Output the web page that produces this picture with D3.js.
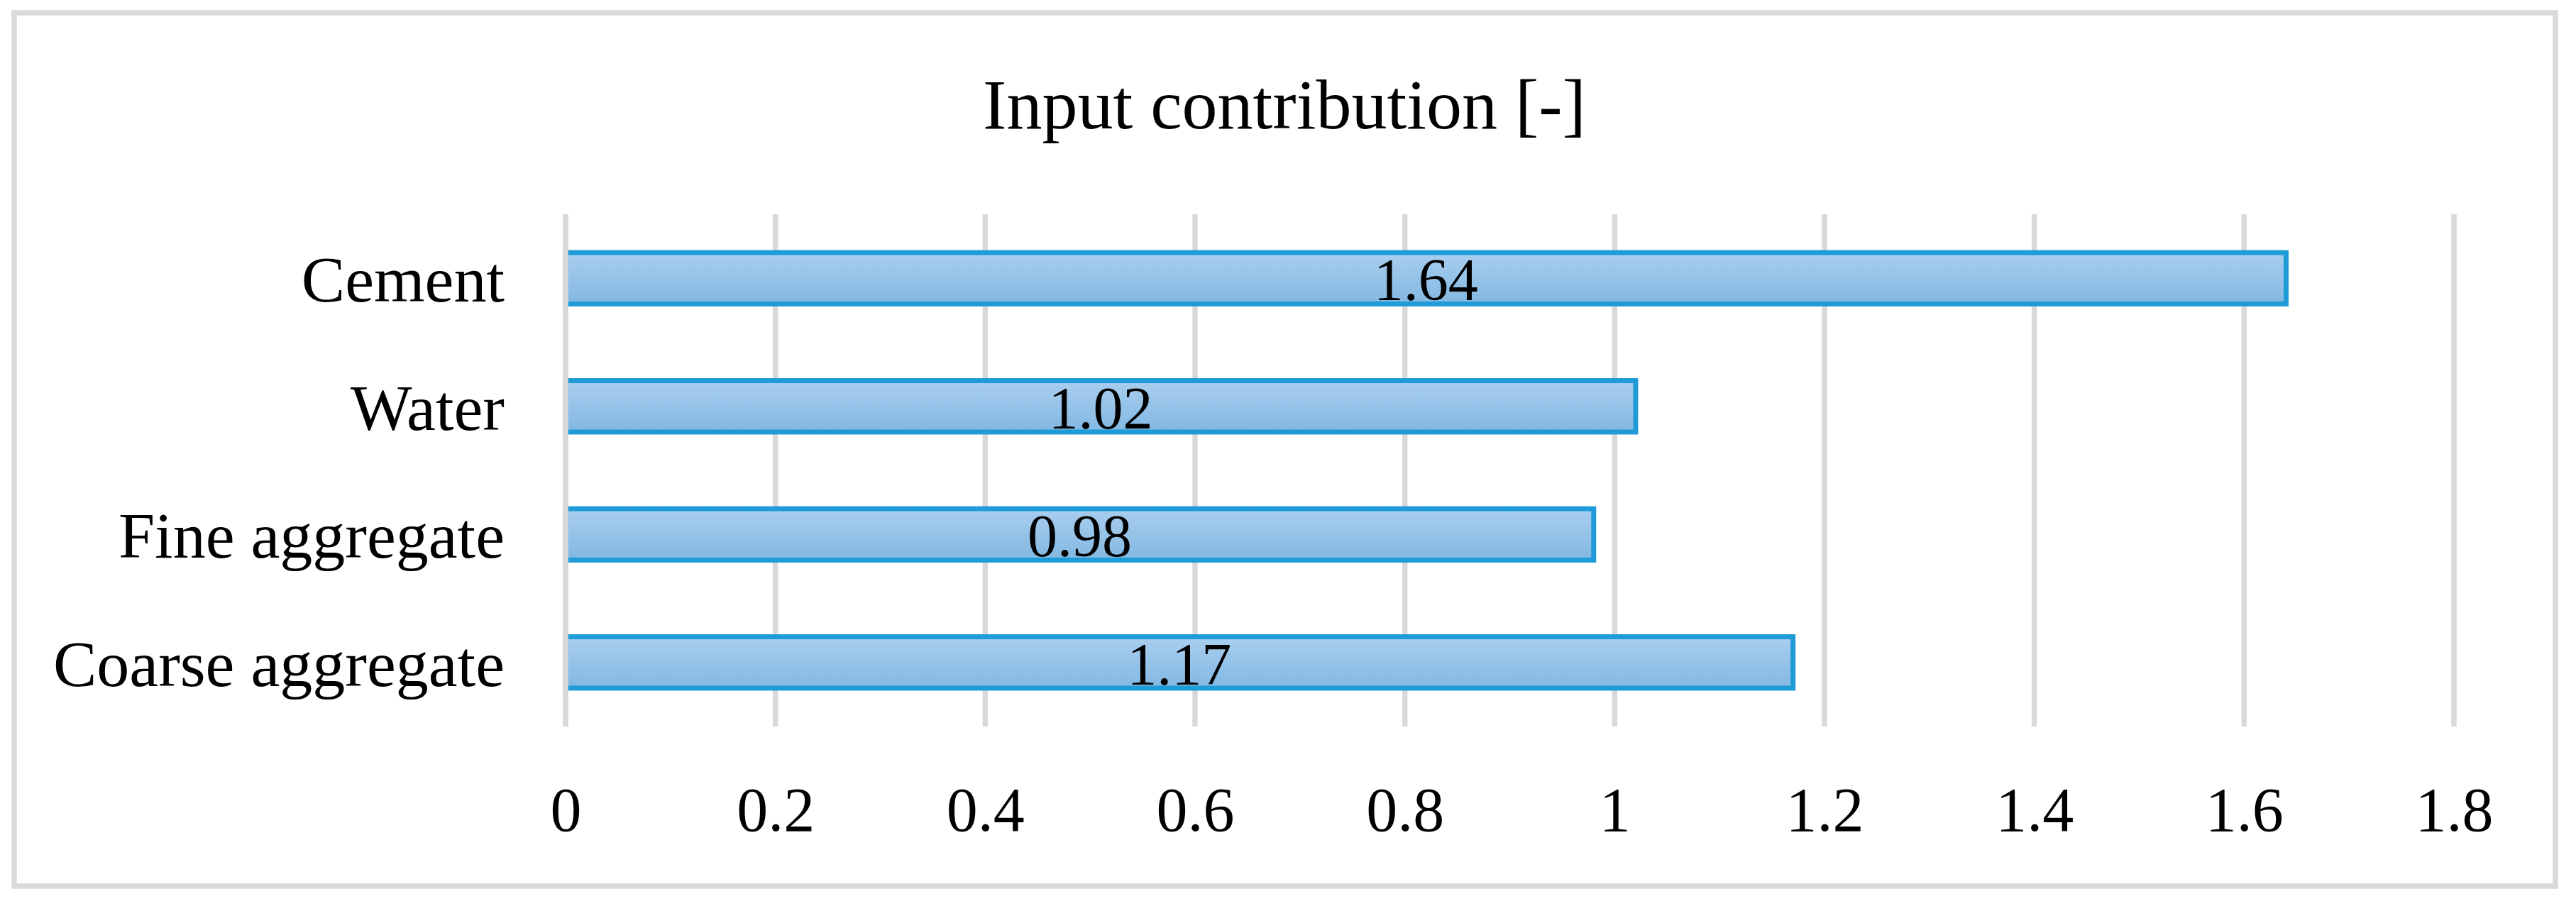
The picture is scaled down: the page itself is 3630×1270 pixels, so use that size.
<!DOCTYPE html>
<html>
<head>
<meta charset="utf-8">
<script src="https://cdn.jsdelivr.net/npm/d3@7"></script>
<style>
  html, body { margin: 0; padding: 0; background: #ffffff; }
  svg { display: block; }
</style>
</head>
<body>
<svg id="chart" width="3630" height="1270"></svg>
<script>
// ---- data ----
const categories = ["Cement", "Water", "Fine aggregate", "Coarse aggregate"];
const values = [1.64, 1.02, 0.98, 1.17];
const tickValues = [0, 0.2, 0.4, 0.6, 0.8, 1.0, 1.2, 1.4, 1.6, 1.8];
const tickLabels = ["0", "0.2", "0.4", "0.6", "0.8", "1", "1.2", "1.4", "1.6", "1.8"];
const valueLabels = ["1.64", "1.02", "0.98", "1.17"];
const chartTitle = "Input contribution [-]";

// ---- layout ----
const W = 3630, H = 1270;
const plot = { left: 797, right: 3458, top: 302, bottom: 1024 };
const svg = d3.select("#chart");
const FONT = "'Liberation Serif', 'Times New Roman', serif";

const defs = svg.append("defs");
const grad = defs.append("linearGradient")
  .attr("id", "barGrad").attr("x1", 0).attr("y1", 0).attr("x2", 0).attr("y2", 1);
grad.append("stop").attr("offset", "0%").attr("stop-color", "#a9ceef");
grad.append("stop").attr("offset", "100%").attr("stop-color", "#82b8e2");

// background + frame
svg.append("rect").attr("x", 0).attr("y", 0).attr("width", W).attr("height", H).attr("fill", "#ffffff");
svg.append("rect")
  .attr("x", 20).attr("y", 18).attr("width", 3581).attr("height", 1231)
  .attr("fill", "none").attr("stroke", "#d9d9d9").attr("stroke-width", 7.5);

const x = d3.scaleLinear().domain([0, 1.8]).range([plot.left, plot.right]);
const y = d3.scaleBand().domain(categories).range([plot.top, plot.bottom])
  .paddingInner(0.56).paddingOuter(0.28);

// gridlines
svg.append("g").selectAll("line").data(tickValues).join("line")
  .attr("x1", d => x(d)).attr("x2", d => x(d))
  .attr("y1", plot.top).attr("y2", plot.bottom)
  .attr("stroke", "#d9d9d9").attr("stroke-width", 7.5);

// bars
const sw = 7;
const data = categories.map((c, i) => ({ c, v: values[i], label: valueLabels[i] }));
svg.append("g").selectAll("rect").data(data).join("rect")
  .attr("x", x(0))
  .attr("y", d => y(d.c) + sw / 2)
  .attr("width", d => x(d.v) - x(0))
  .attr("height", y.bandwidth() - sw)
  .attr("fill", "url(#barGrad)")
  .attr("stroke", "#1f9bd7")
  .attr("stroke-width", sw);

// zero gridline over bar left edges
svg.append("line")
  .attr("x1", x(0)).attr("x2", x(0)).attr("y1", plot.top).attr("y2", plot.bottom)
  .attr("stroke", "#d9d9d9").attr("stroke-width", 7.5);

// value labels
svg.append("g").selectAll("text").data(data).join("text")
  .attr("x", d => (x(0) + x(d.v)) / 2)
  .attr("y", d => y(d.c) + y.bandwidth() / 2 + 31)
  .attr("text-anchor", "middle")
  .attr("font-family", FONT).attr("font-size", 84).attr("fill", "#000000")
  .text(d => d.label);

// category labels (y axis)
const yAxis = d3.axisLeft(y).tickSize(0).tickPadding(0);
const gy = svg.append("g").attr("transform", `translate(711,0)`).call(yAxis);
gy.select(".domain").remove();
gy.selectAll("text")
  .attr("font-family", FONT).attr("font-size", 92).attr("fill", "#000000")
  .attr("dy", null).attr("dominant-baseline", null)
  .attr("y", 33).attr("x", 0).attr("text-anchor", "end");

// x tick labels
const xAxis = d3.axisBottom(x).tickValues(tickValues)
  .tickFormat((d, i) => tickLabels[i]).tickSize(0).tickPadding(0);
const gx = svg.append("g").attr("transform", `translate(0,1171)`).call(xAxis);
gx.select(".domain").remove();
gx.selectAll("text")
  .attr("font-family", FONT).attr("font-size", 88).attr("fill", "#000000")
  .attr("dy", null).attr("y", 0);

// title
svg.append("text")
  .attr("x", 1810).attr("y", 181)
  .attr("text-anchor", "middle")
  .attr("font-family", FONT).attr("font-size", 100).attr("fill", "#000000")
  .text(chartTitle);
</script>
</body>
</html>
